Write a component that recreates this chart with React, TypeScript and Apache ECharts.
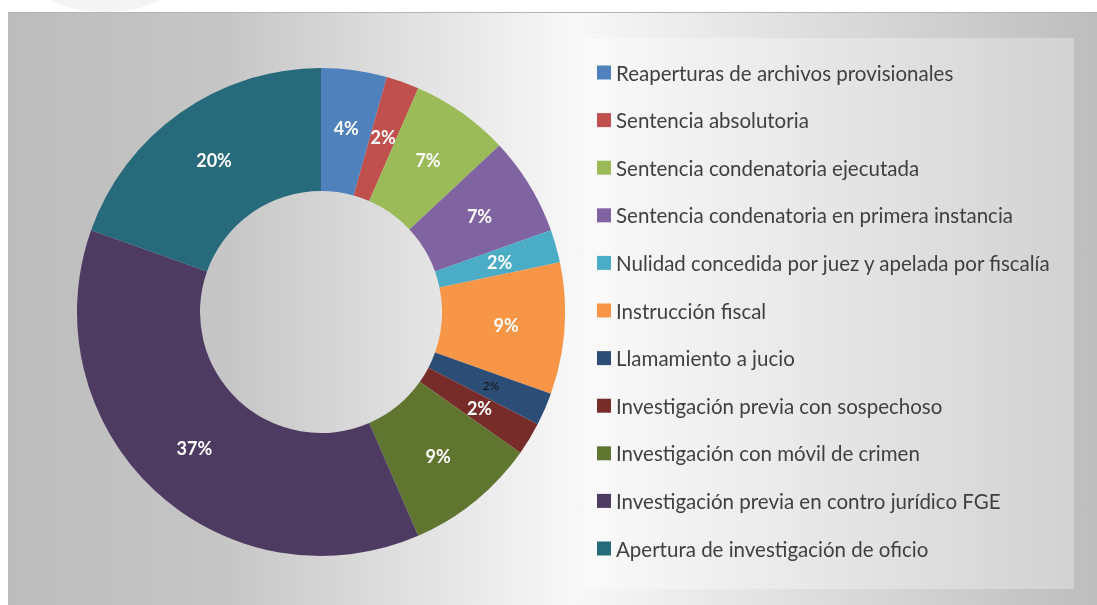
import React, { useEffect, useRef } from "react";
import * as echarts from "echarts";

const categories = [
  "Reaperturas de archivos provisionales",
  "Sentencia absolutoria",
  "Sentencia condenatoria ejecutada",
  "Sentencia condenatoria en primera instancia",
  "Nulidad concedida por juez y apelada por fiscalía",
  "Instrucción fiscal",
  "Llamamiento a jucio",
  "Investigación previa con sospechoso",
  "Investigación con móvil de crimen",
  "Investigación previa en contro jurídico FGE",
  "Apertura de investigación de oficio",
];

const counts = [2, 1, 3, 3, 1, 4, 1, 1, 4, 17, 9];

const colors = [
  "#4f81bd",
  "#c0504d",
  "#9bbb59",
  "#8064a2",
  "#4bacc6",
  "#f79646",
  "#2c4d75",
  "#772c2a",
  "#5f7530",
  "#4d3b62",
  "#276a7c",
];

const W = 1097;
const H = 605;

export default function App() {
  const ref = useRef<HTMLDivElement>(null);

  useEffect(() => {
    if (!ref.current) return;
    const chart = echarts.init(ref.current, null, { renderer: "svg", width: W, height: H });

    const data = categories.map((name, i) => {
      const item: any = { name, value: counts[i], itemStyle: { color: colors[i] } };
      if (i === 6) {
        item.label = { color: "#111111", fontSize: 12, fontWeight: "normal" };
      }
      return item;
    });

    const option: any = {
      animation: false,
      graphic: [
        { type: "rect", z: -10, shape: { x: 0, y: 0, width: W, height: H }, style: { fill: "#ffffff" } },
        { type: "ellipse", z: -9, shape: { cx: 105, cy: -20, rx: 70, ry: 32 }, style: { fill: "#f4f4f4" } },
        {
          type: "rect",
          z: -8,
          shape: { x: 8, y: 12, width: W - 8, height: H - 12 },
          style: {
            fill: new echarts.graphic.LinearGradient(0, 0, 1, 0, [
              { offset: 0, color: "#bcbcbc" },
              { offset: 0.2, color: "#c6c6c6" },
              { offset: 0.52, color: "#f8f8f8" },
              { offset: 0.8, color: "#d6d6d6" },
              { offset: 1, color: "#bdbdbd" },
            ]),
          },
        },
        { type: "line", z: -7, shape: { x1: 8, y1: 12.5, x2: W, y2: 12.5 }, style: { stroke: "#b4b4b4", lineWidth: 1 } },
        {
          type: "rect",
          z: -6,
          shape: { x: 585, y: 38, width: 489, height: 551 },
          style: {
            fill: new echarts.graphic.LinearGradient(0, 0, 1, 0, [
              { offset: 0, color: "#fafafa" },
              { offset: 1, color: "#d2d2d2" },
            ]),
          },
        },
      ],
      legend: {
        orient: "vertical",
        left: 597,
        top: 62,
        padding: 0,
        itemWidth: 14,
        itemHeight: 14,
        itemGap: 26.6,
        icon: "rect",
        selectedMode: false,
        data: categories,
        textStyle: {
          fontFamily: "Lato",
          fontSize: 20.5,
          lineHeight: 20,
          color: "#404040",
        },
      },
      series: [
        {
          type: "pie",
          center: [321, 312],
          radius: [121, 244],
          startAngle: 90,
          clockwise: true,
          avoidLabelOverlap: false,
          silent: true,
          label: {
            show: true,
            position: "inside",
            formatter: (p: any) => Math.round(p.percent) + "%",
            color: "#ffffff",
            fontFamily: "Lato",
            fontSize: 18,
            fontWeight: "bold",
          },
          labelLine: { show: false },
          emphasis: { disabled: true },
          data,
        },
      ],
    };

    chart.setOption(option);
    return () => chart.dispose();
  }, []);

  return (
    <div
      ref={ref}
      style={{ position: "fixed", left: 0, top: 0, width: W, height: H }}
    />
  );
}
